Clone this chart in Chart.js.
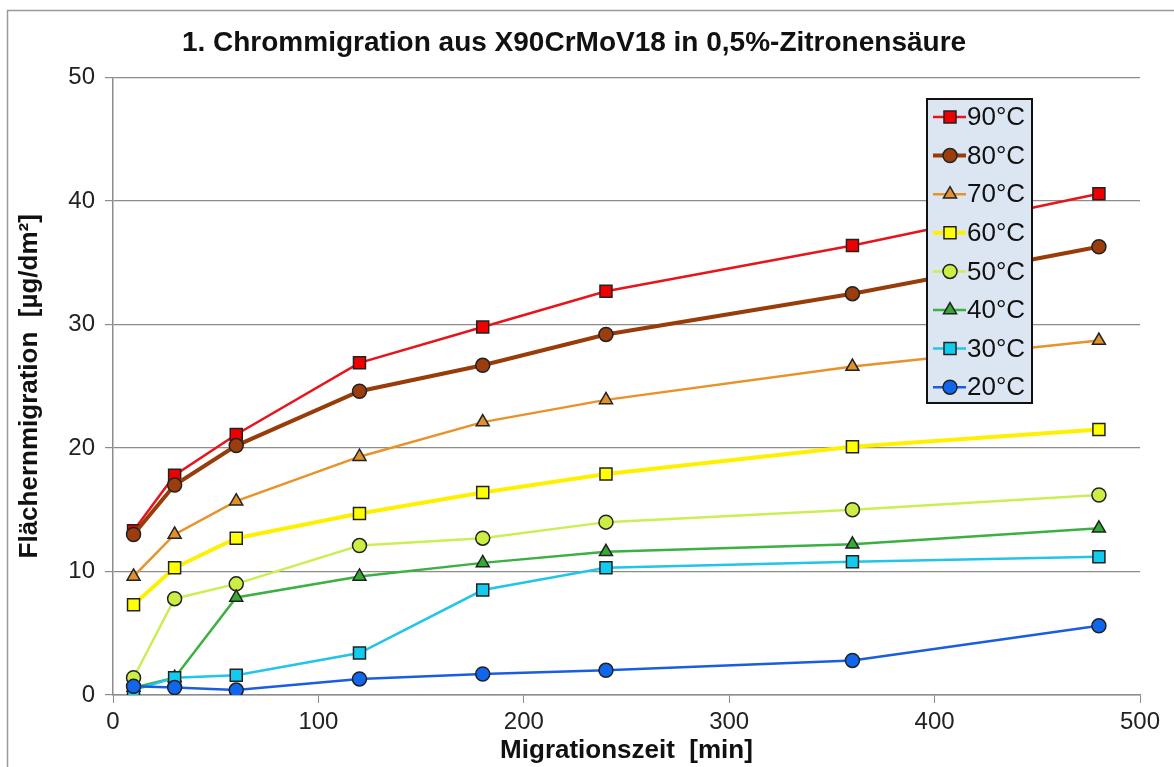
<!DOCTYPE html>
<html>
<head>
<meta charset="utf-8">
<script src="https://cdn.jsdelivr.net/npm/chart.js@4/dist/chart.umd.min.js"></script>
<style>
  html, body { margin: 0; padding: 0; background: #fff; }
  #wrap { width: 1174px; height: 767px; }
</style>
</head>
<body>
<div id="wrap"><canvas id="chart" width="1174" height="767"></canvas></div>
<script>
// Migrationszeit in min
const times = [10, 30, 60, 120, 180, 240, 360, 480];

// Flächenmigration in µg/dm² je Temperatur
const c90 = [13.3, 17.8, 21.1, 26.9, 29.8, 32.7, 36.4, 40.6];
const c80 = [13.0, 17.0, 20.2, 24.6, 26.7, 29.2, 32.5, 36.3];
const c70 = [9.6, 13.0, 15.7, 19.3, 22.1, 23.9, 26.6, 28.7];
const c60 = [7.3, 10.3, 12.7, 14.7, 16.4, 17.9, 20.1, 21.5];
const c50 = [1.4, 7.8, 9.0, 12.1, 12.7, 14.0, 15.0, 16.2];
const c40 = [0.6, 1.4, 7.9, 9.6, 10.7, 11.6, 12.2, 13.5];
const c30 = [0.4, 1.4, 1.6, 3.4, 8.5, 10.3, 10.8, 11.2];
const c20 = [0.7, 0.6, 0.4, 1.3, 1.7, 2.0, 2.8, 5.6];

const labels = ['90°C', '80°C', '70°C', '60°C', '50°C', '40°C', '30°C', '20°C'];
const series = [c90, c80, c70, c60, c50, c40, c30, c20];

const xTicks = [0, 100, 200, 300, 400, 500];
const yTicks = [0, 10, 20, 30, 40, 50];

// styles per series
const lineColors = ['#e8141c', '#983c0a', '#e8922a', '#fff000', '#ccee55', '#3cb043', '#22c4e8', '#1a5ee0'];
const fillColors = ['#ee0000', '#9b3d0c', '#e0902c', '#ffff00', '#ccee44', '#33aa33', '#11ccee', '#1166ee'];
const widths     = [2.5, 4, 2.5, 4, 2.5, 2.5, 2.5, 2.5];
const styles     = ['rect', 'circle', 'triangle', 'rect', 'circle', 'triangle', 'rect', 'circle'];
const radii      = [8.5, 7, 7.5, 8.5, 7, 7.5, 8.5, 7];

const boldFont = '"Liberation Sans Narrow", "Liberation Sans", Arial, sans-serif';
const normFont = '"Liberation Sans", Arial, sans-serif';

const datasets = series.map((vals, i) => ({
  label: labels[i],
  data: vals.map((v, j) => ({ x: times[j], y: v })),
  borderColor: lineColors[i],
  borderWidth: widths[i],
  backgroundColor: fillColors[i],
  pointBackgroundColor: fillColors[i],
  pointBorderColor: '#222',
  pointBorderWidth: 1.5,
  pointStyle: styles[i],
  pointRadius: radii[i],
  tension: 0,
  order: 7 - i
}));

// frame around the chart (only top and left visible in reference)
const framePlugin = {
  id: 'frame',
  beforeDraw(chart) {
    const ctx = chart.ctx;
    ctx.save();
    ctx.strokeStyle = '#9a9a9a';
    ctx.lineWidth = 1.5;
    ctx.strokeRect(7.5, 10.5, 1300, 900);
    ctx.restore();
  }
};

// legend box drawn inside the plot area
const boxLegend = {
  id: 'boxLegend',
  afterDraw(chart) {
    const ctx = chart.ctx;
    const bx = 927, by = 99, bw = 105, bh = 304;
    ctx.save();
    ctx.fillStyle = '#dce6f2';
    ctx.fillRect(bx, by, bw, bh);
    ctx.strokeStyle = '#111';
    ctx.lineWidth = 2;
    ctx.strokeRect(bx, by, bw, bh);
    chart.data.datasets.forEach((ds, i) => {
      const cy = by + 18 + i * 38.6;
      ctx.strokeStyle = ds.borderColor;
      ctx.lineWidth = ds.borderWidth;
      ctx.beginPath();
      ctx.moveTo(bx + 6, cy);
      ctx.lineTo(bx + 39, cy);
      ctx.stroke();
      ctx.fillStyle = ds.pointBackgroundColor;
      ctx.strokeStyle = '#222';
      ctx.lineWidth = 1.5;
      Chart.helpers.drawPoint(ctx, {
        pointStyle: ds.pointStyle, radius: ds.pointRadius, borderWidth: 1.5, rotation: 0
      }, bx + 23, cy);
      ctx.fillStyle = '#111';
      ctx.font = '26px ' + normFont;
      ctx.textBaseline = 'middle';
      ctx.textAlign = 'left';
      ctx.fillText(ds.label, bx + 40, cy + 1);
    });
    ctx.restore();
  }
};

new Chart(document.getElementById('chart'), {
  type: 'line',
  data: { datasets },
  plugins: [framePlugin, boxLegend],
  options: {
    responsive: false,
    animation: false,
    layout: { padding: { left: 8, right: 34, top: 0, bottom: 0 } },
    plugins: {
      legend: { display: false },
      tooltip: { enabled: false },
      title: {
        display: true,
        text: '1. Chrommigration aus X90CrMoV18 in 0,5%-Zitronensäure',
        color: '#111',
        font: { family: boldFont, size: 28, weight: 'bold', lineHeight: 1.2 },
        padding: { top: 26, bottom: 18 }
      }
    },
    scales: {
      x: {
        type: 'linear',
        min: 0, max: 500,
        afterFit(s) { s.height = 72; },
        afterBuildTicks(s) { s.ticks = xTicks.map(v => ({ value: v })); },
        grid: { drawOnChartArea: false, drawTicks: true, tickLength: 8, color: '#8c8c8c' },
        border: { display: true, color: '#8c8c8c', width: 1.5 },
        ticks: { color: '#222', padding: 5, font: { family: normFont, size: 24 } },
        title: {
          display: true, text: 'Migrationszeit  [min]', color: '#111',
          font: { family: boldFont, size: 26, weight: 'bold', lineHeight: 1.1 },
          padding: { top: 0, bottom: 2 }
        }
      },
      y: {
        min: 0, max: 50,
        afterFit(s) { s.width = 105; },
        afterBuildTicks(s) { s.ticks = yTicks.map(v => ({ value: v })); },
        grid: { color: '#8c8c8c', lineWidth: 1.2, tickLength: 8 },
        border: { display: true, color: '#8c8c8c', width: 1.5 },
        ticks: { color: '#222', padding: 10, font: { family: normFont, size: 24 } },
        title: {
          display: true, text: 'Flächernmigration  [µg/dm²]', color: '#111',
          font: { family: boldFont, size: 26, weight: 'bold', lineHeight: 1.1 },
          padding: { top: 8, bottom: 0 }
        }
      }
    }
  }
});
</script>
</body>
</html>
